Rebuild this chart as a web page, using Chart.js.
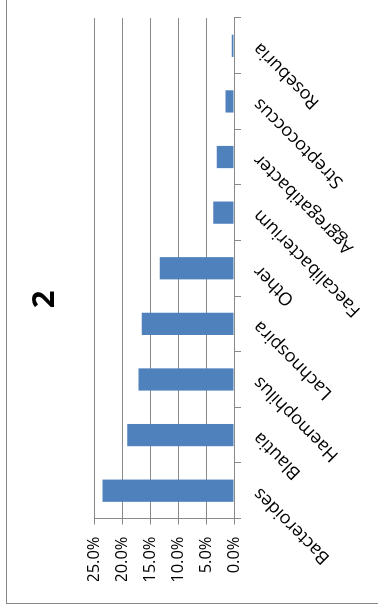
<!DOCTYPE html>
<html>
<head>
<meta charset="utf-8">
<script src="https://cdn.jsdelivr.net/npm/chart.js@4.4.0/dist/chart.umd.min.js"></script>
<style>
  html, body { margin: 0; padding: 0; background: #fff; overflow: hidden; width: 378px; height: 611px; }
  /* the chart is laid out landscape, then turned a quarter turn to stand upright */
  #stage {
    position: absolute; left: 0; top: 0;
    width: 611px; height: 378px; overflow: hidden; background: #fff;
    transform-origin: 0 0;
    transform: translateY(611px) rotate(-90deg);
  }
  #frame {
    position: absolute; left: 7px; top: 6px; width: 660px; height: 440px;
    border: 1px solid #878787; box-sizing: border-box;
  }
  #c { position: absolute; left: 0; top: 0; }
</style>
</head>
<body>
<div id="stage">
  <div id="frame"></div>
  <canvas id="c" width="611" height="378"></canvas>
</div>
<script>
// genus labels along the category axis
const categories = [
  'Bacteroides', 'Blautia', 'Haemophilus', 'Lachnospira', 'Other',
  'Faecalibacterium', 'Aggregatibacter', 'Streptococcus', 'Roseburia'
];
// relative abundance, percent
const shares = [23.5, 19.1, 17.1, 16.5, 13.3, 3.7, 3.1, 1.5, 0.4];
// value axis ticks, percent
const valueTicks = [0, 5, 10, 15, 20, 25];
const chartTitle = '2';

const gridGray = '#898989';
const fontFamily = "'Open Sans', 'DejaVu Sans', sans-serif";

new Chart(document.getElementById('c'), {
  type: 'bar',
  data: {
    labels: categories,
    datasets: [{
      data: shares,
      backgroundColor: '#4F81BD',
      borderWidth: 0,
      barPercentage: 0.4,
      categoryPercentage: 1.0
    }]
  },
  options: {
    responsive: false,
    animation: false,
    devicePixelRatio: 1,
    layout: { padding: { left: 30, right: 18, top: 0, bottom: 0 } },
    plugins: {
      legend: { display: false },
      tooltip: { enabled: false },
      title: {
        display: true,
        text: chartTitle,
        color: '#000',
        font: { family: fontFamily, size: 31, weight: 'bold' },
        padding: { top: 27, bottom: 30 }
      }
    },
    scales: {
      x: {
        offset: true,
        border: { display: true, color: gridGray, width: 1 },
        grid: { display: true, drawOnChartArea: false, drawTicks: true, tickLength: 7, color: gridGray, offset: true },
        ticks: {
          color: '#000', font: { family: fontFamily, size: 18 }, autoSkip: false,
          minRotation: 45, maxRotation: 45, padding: 8
        },
        afterFit: (scale) => { scale.height = 144; }
      },
      y: {
        min: valueTicks[0],
        max: valueTicks[valueTicks.length - 1],
        border: { display: true, color: gridGray, width: 1 },
        grid: { color: gridGray, lineWidth: 1, drawTicks: true, tickLength: 6 },
        afterBuildTicks: (scale) => { scale.ticks = valueTicks.map(v => ({ value: v })); },
        ticks: {
          color: '#000', font: { family: fontFamily, size: 16.5 }, padding: 12,
          callback: (v) => Number(v).toFixed(1) + '%'
        },
        afterFit: (scale) => { scale.width = 62.5; }
      }
    }
  }
});
</script>
</body>
</html>
